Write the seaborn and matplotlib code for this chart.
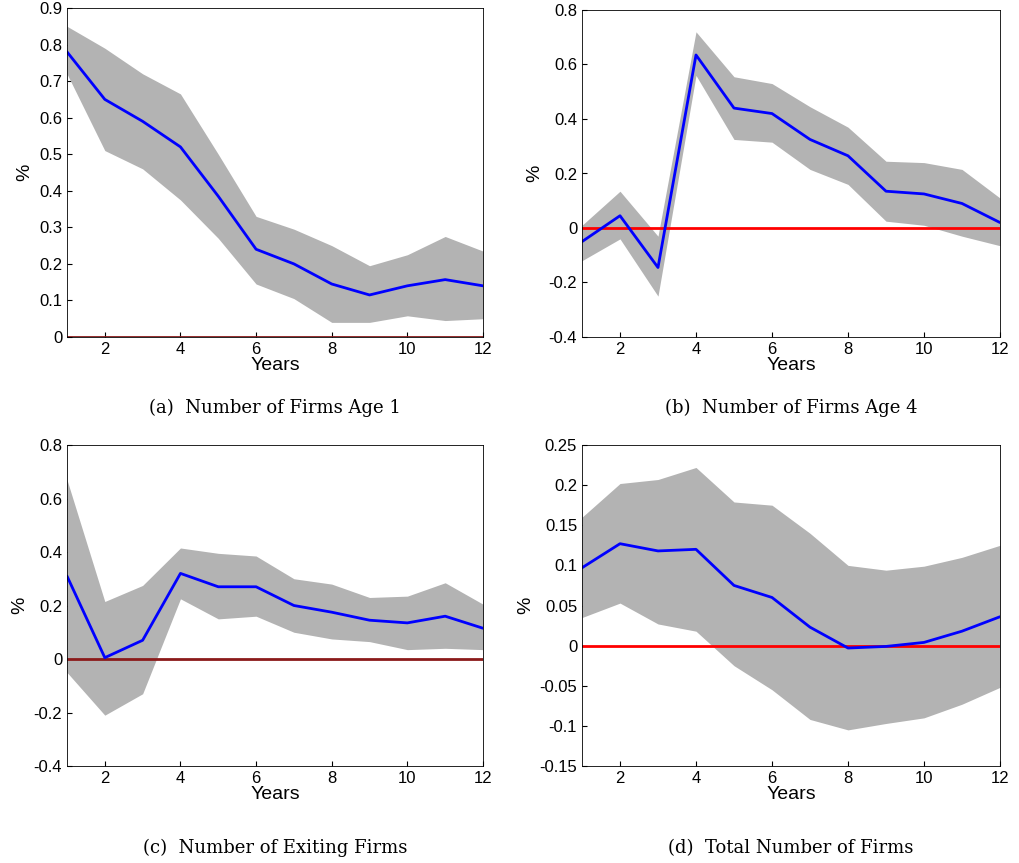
import numpy as np
import pandas as pd
import matplotlib
matplotlib.use("Agg")
import matplotlib.pyplot as plt
import seaborn as sns

sns.set_style("ticks")
plt.rcParams['font.family'] = ['Liberation Sans', 'DejaVu Sans']
plt.rcParams['text.color'] = 'black'
plt.rcParams['axes.labelcolor'] = 'black'
plt.rcParams['xtick.color'] = 'black'
plt.rcParams['ytick.color'] = 'black'

years = list(range(1, 13))

age1_mid = [0.78, 0.65, 0.59, 0.52, 0.385, 0.24, 0.2, 0.145, 0.115, 0.14, 0.157, 0.14]
age1_lo = [0.72, 0.51, 0.46, 0.375, 0.27, 0.145, 0.105, 0.04, 0.04, 0.058, 0.045, 0.05]
age1_hi = [0.85, 0.79, 0.72, 0.665, 0.5, 0.33, 0.295, 0.25, 0.195, 0.225, 0.275, 0.235]

age4_mid = [-0.05, 0.045, -0.145, 0.635, 0.44, 0.42, 0.325, 0.265, 0.135, 0.125, 0.09, 0.02]
age4_lo = [-0.12, -0.04, -0.25, 0.56, 0.325, 0.315, 0.215, 0.16, 0.025, 0.01, -0.03, -0.065]
age4_hi = [0.01, 0.135, -0.03, 0.72, 0.555, 0.53, 0.445, 0.37, 0.245, 0.24, 0.215, 0.11]

exit_mid = [0.31, 0.005, 0.07, 0.32, 0.27, 0.27, 0.2, 0.175, 0.145, 0.135, 0.16, 0.115]
exit_lo = [-0.05, -0.21, -0.13, 0.225, 0.15, 0.16, 0.1, 0.075, 0.065, 0.035, 0.04, 0.035]
exit_hi = [0.67, 0.215, 0.275, 0.415, 0.395, 0.385, 0.3, 0.28, 0.23, 0.235, 0.285, 0.205]

total_mid = [0.097, 0.127, 0.118, 0.12, 0.075, 0.06, 0.023, -0.003, -0.001, 0.004, 0.018, 0.036]
total_lo = [0.035, 0.053, 0.027, 0.018, -0.025, -0.055, -0.092, -0.105, -0.097, -0.09, -0.073, -0.052]
total_hi = [0.16, 0.202, 0.207, 0.222, 0.179, 0.175, 0.14, 0.1, 0.094, 0.099, 0.11, 0.125]

panels = [
    (age1_mid, age1_lo, age1_hi, (0, 0.9), np.arange(0, 0.91, 0.1), '(a)  Number of Firms Age 1', '#8b1a1a'),
    (age4_mid, age4_lo, age4_hi, (-0.4, 0.8), np.arange(-0.4, 0.81, 0.2), '(b)  Number of Firms Age 4', 'red'),
    (exit_mid, exit_lo, exit_hi, (-0.4, 0.8), np.arange(-0.4, 0.81, 0.2), '(c)  Number of Exiting Firms', '#8b1a1a'),
    (total_mid, total_lo, total_hi, (-0.15, 0.25), np.arange(-0.15, 0.251, 0.05), '(d)  Total Number of Firms', 'red'),
]

W, H = 1019, 863
boxes = [(67, 8, 483, 337), (582, 10, 1000, 337), (67, 445, 483, 766), (582, 445, 1000, 766)]
caption_y = [408, 408, 848, 848]

fig = plt.figure(figsize=(W / 100, H / 100), dpi=100)
for (mid, lo, hi, ylim, yt, cap, zc), (l, t, r, b), cy in zip(panels, boxes, caption_y):
    ax = fig.add_axes([l / W, 1 - b / H, (r - l) / W, (b - t) / H])
    df = pd.DataFrame({'Years': years, 'mid': mid})
    ax.fill_between(years, lo, hi, color='#b3b3b3', lw=0)
    ax.axhline(0, color=zc, lw=2)
    sns.lineplot(data=df, x='Years', y='mid', ax=ax, color='blue', lw=2)
    ax.set_xlim(1, 12)
    ax.set_ylim(*ylim)
    ax.set_xticks(range(2, 13, 2))
    ax.set_yticks(yt)
    ax.set_yticklabels([('%g' % round(v, 2)) for v in yt])
    ax.set_xlabel('Years', fontsize=14, labelpad=0)
    ax.set_ylabel('%', fontsize=14)
    ax.tick_params(direction='in', labelsize=12, top=False, right=False)
    for s in ax.spines.values():
        s.set_visible(True)
        s.set_linewidth(0.6)
        s.set_color('black')
    fig.text((l + r) / 2 / W, 1 - cy / H, cap, ha='center', va='center',
             fontsize=13, family='DejaVu Serif')

fig.savefig('out.png', dpi=100)
